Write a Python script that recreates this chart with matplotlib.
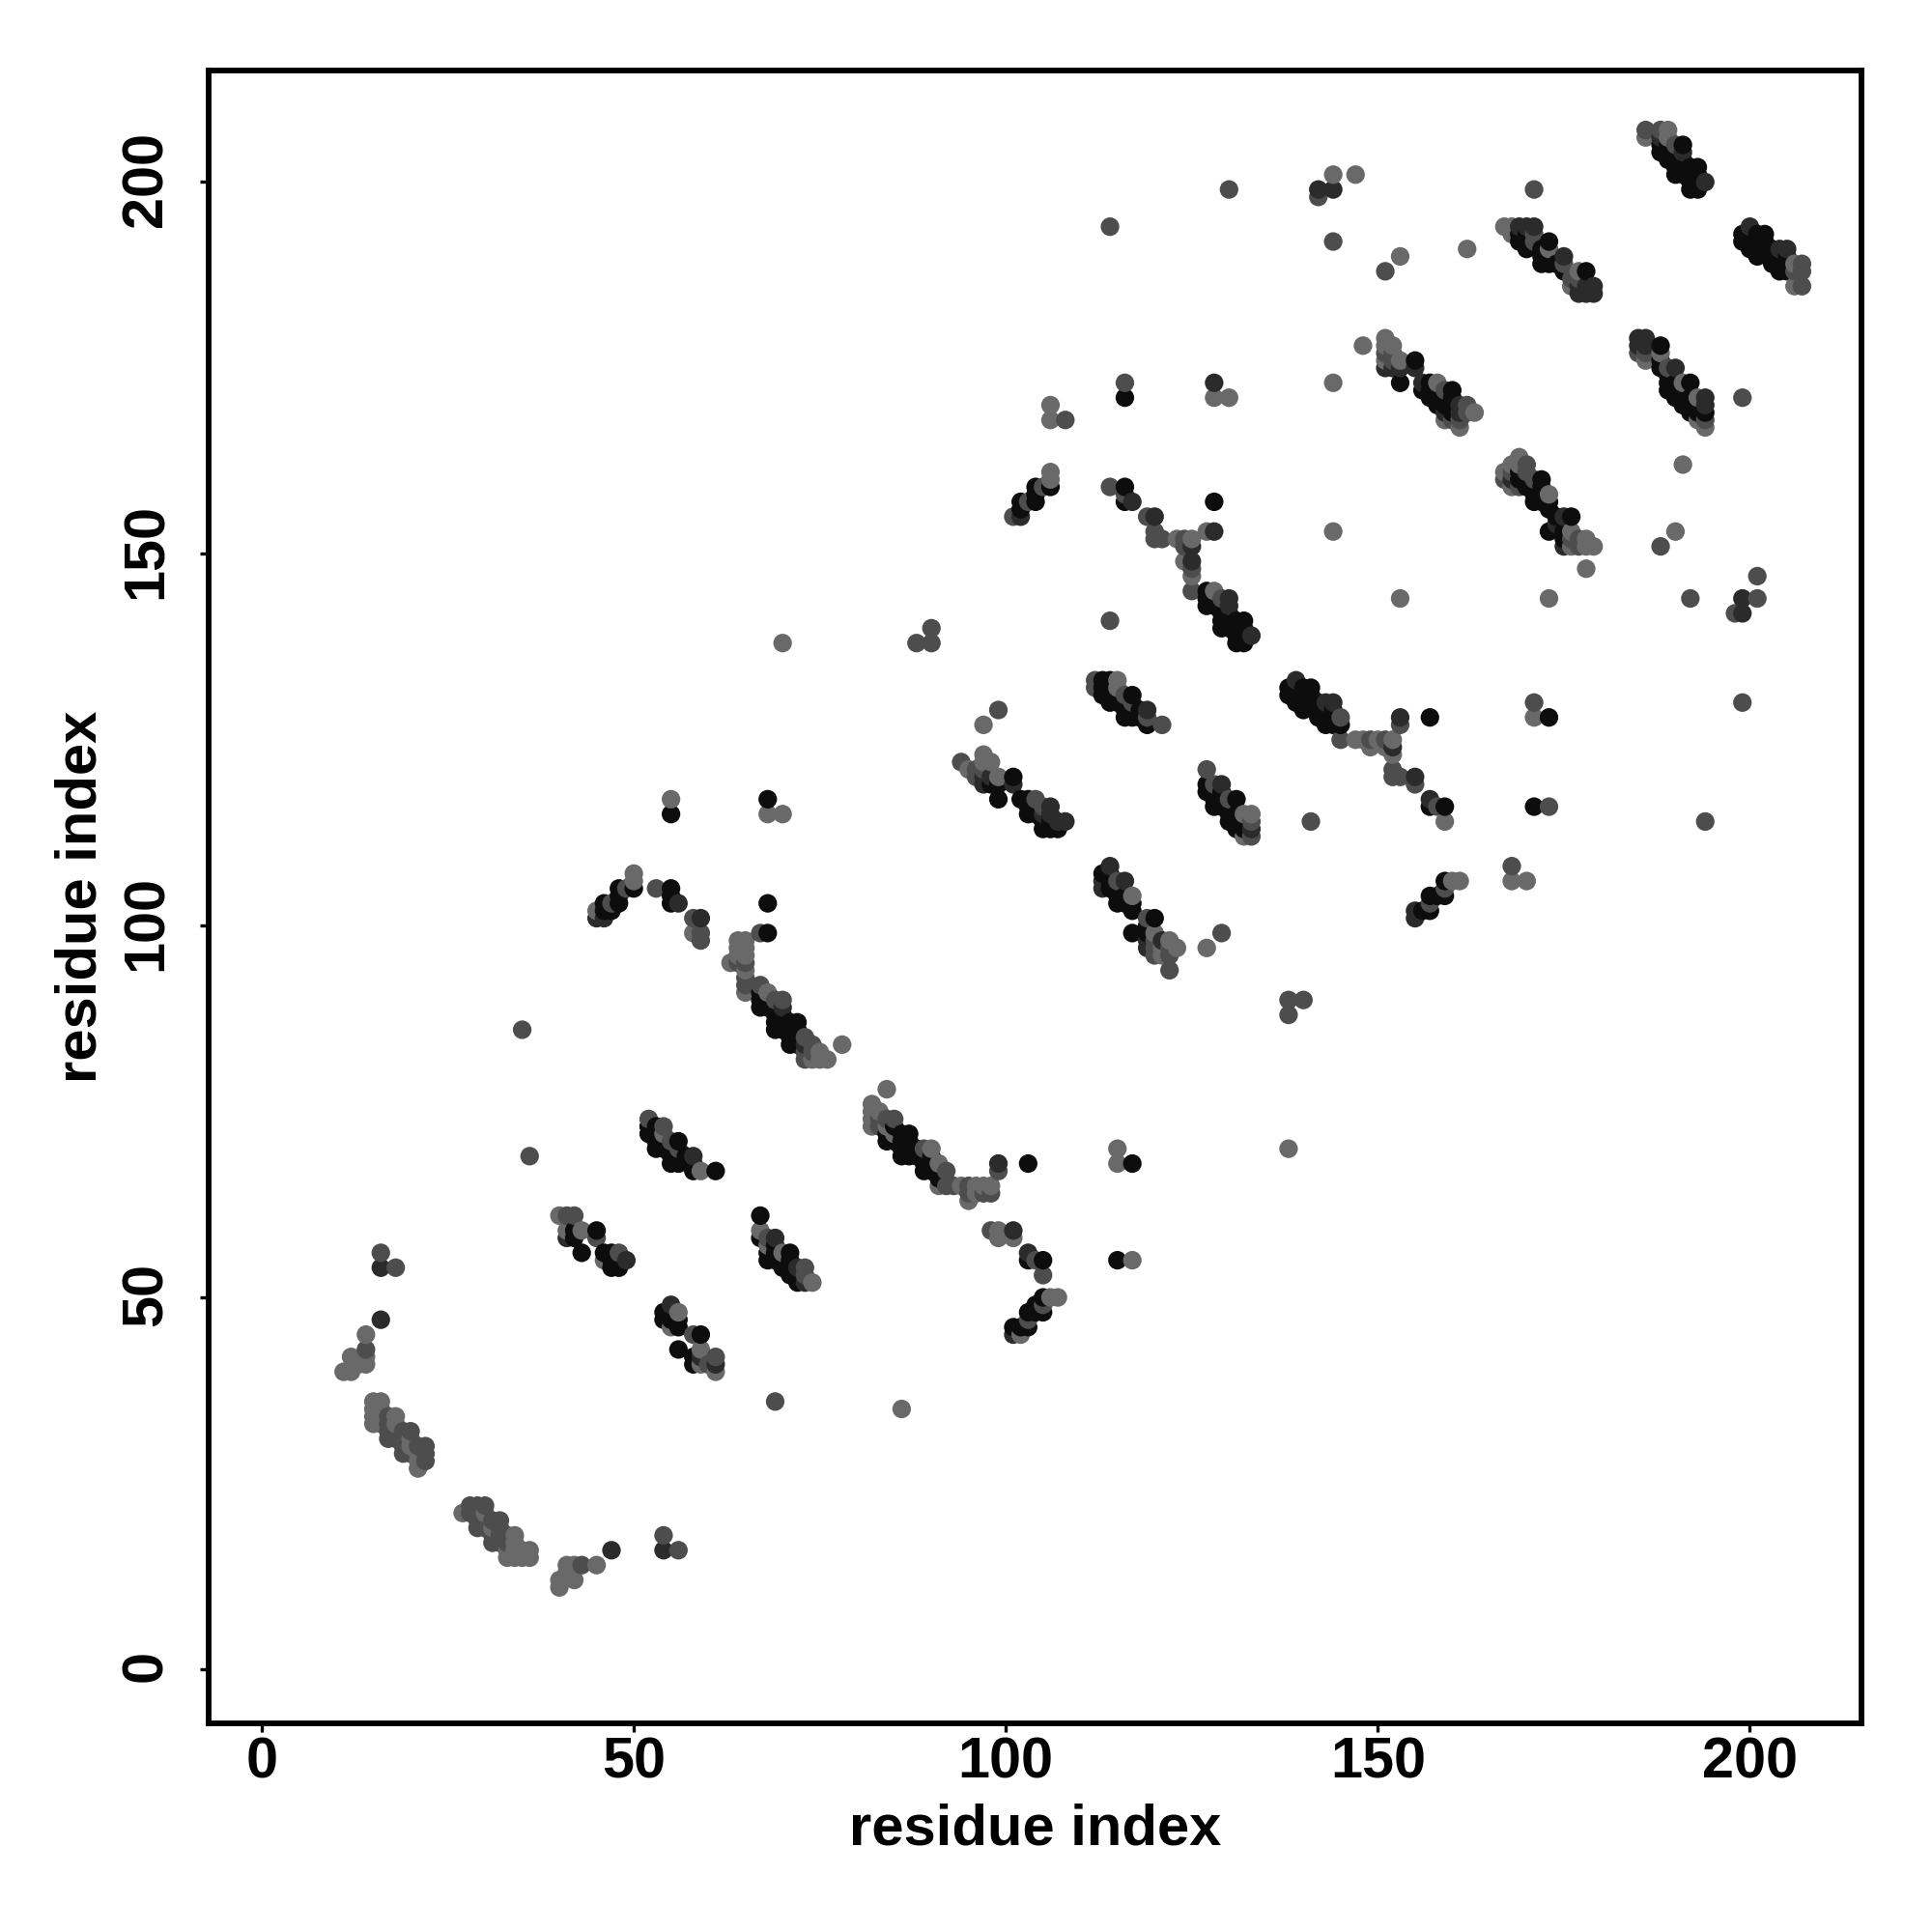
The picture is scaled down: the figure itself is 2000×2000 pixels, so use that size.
import matplotlib as mpl
mpl.use('Agg')
import matplotlib.pyplot as plt
from matplotlib.transforms import ScaledTranslation
import numpy as np

# contacts as (i, j), one list per grey level
light = [(11,40),(12,40),(12,42),(13,41),(14,41),(14,42),(14,45),
    (15,33),(15,34),(15,35),(15,36),(16,33),(16,34),(16,35),(16,36),(18,33),(18,34),(20,30),(20,31),(21,27),(21,28),(21,29),
    (27,21),(30,21),(31,19),(33,15),(33,16),(34,15),(34,16),(34,17),(34,18),(35,15),(35,16),(36,15),(36,16),
    (40,11),(40,12),(41,13),(41,14),(42,12),(42,14),(45,14),
    (40,61),(41,59),(43,59),(46,55),(55,46),(56,48),(59,41),(59,43),(61,40),
    (67,59),(68,57),(70,56),(74,52),(45,102),(50,106),(50,107),(55,117),(58,99),(68,115),(70,115),
    (63,95),(64,96),(64,97),(64,98),(65,91),(65,94),(65,96),(65,97),(65,98),(68,91),
    (74,82),(75,82),(75,83),(76,82),(78,84),(54,72),(59,67),
    (82,73),(82,74),(82,75),(82,76),(83,75),(84,73),(84,78),(85,72),(90,70),(91,65),(91,68),
    (94,65),(95,63),(96,64),(96,65),(97,65),(98,65),(99,58),(99,59),(101,58),(102,45),(106,50),(107,50),
    (115,68),(115,70),(117,55),(86,35),(138,70),(95,121),(97,122),(97,123),(97,127),(98,122),(99,120),
    (115,132),(115,133),(132,112),(132,115),(133,115),(117,104),(120,99),(121,96),(121,97),(122,98),(123,97),(127,97),
    (147,125),(148,125),(149,124),(150,125),(151,124),(152,123),(152,125),(159,114),(160,106),(161,106),(168,106),(170,106),(171,128),
    (167,161),(168,159),(168,162),(169,162),(169,163),(173,158),(176,151),(176,153),(178,148),(178,151),(178,152),(179,151),
    (144,153),(153,144),(173,144),(190,153),(191,162),(123,152),(124,149),(125,147),(125,152),(127,153),(128,145),
    (106,160),(106,161),(106,168),(106,170),(128,171),(130,171),(144,173),(144,201),(147,201),(148,178),(153,190),(162,191),(70,138),
    (186,206),(189,206),(189,207),(206,186),(206,189),(167,194),(168,193),(168,194),(173,191),(176,186),(177,188),
    (186,176),(188,177),(191,173),(193,168),(193,171),(194,167),
    (151,176),(151,178),(151,179),(152,178),(153,176),(158,173),(159,168),(161,167),(163,169)]

mid = [(14,43),(16,56),(18,54),(17,31),(17,32),(17,33),(17,34),(18,31),(18,32),(19,29),(19,30),(19,31),(19,32),(20,29),(20,32),(21,30),(22,28),(22,29),(22,30),
    (28,21),(28,22),(29,19),(29,20),(29,21),(29,22),(30,19),(30,20),(30,22),(31,17),(31,18),(31,20),(32,17),(32,18),(32,19),(32,20),(33,17),(33,18),
    (43,14),(54,18),(56,16),(41,61),(42,61),(45,58),(48,56),(58,45),(60,41),(61,42),
    (68,58),(73,53),(73,54),(47,103),(49,105),(53,105),(58,101),(59,98),(59,99),(67,99),
    (64,95),(65,92),(65,93),(65,95),(67,92),(69,90),(70,90),(73,82),(73,83),(73,85),(74,83),(74,84),(35,86),(36,69),
    (52,74),(54,73),(55,71),(56,70),(83,73),(83,74),(84,74),(85,74),(89,70),(92,65),(92,67),(93,65),(95,64),(95,65),(97,64),(98,64),
    (99,67),(98,59),(104,55),(105,53),(105,49),(103,47),(69,36),(94,122),(96,120),(96,121),(97,121),(99,129),(104,117),(105,116),
    (112,132),(112,133),(116,131),(117,130),(119,128),(121,127),(127,121),(128,119),(130,117),(133,112),(133,114),(141,114),
    (115,106),(119,101),(120,96),(120,97),(120,98),(122,94),(122,96),(122,97),(129,99),(138,88),(138,90),(140,90),
    (145,125),(145,128),(149,125),(151,125),(152,120),(152,121),(153,120),(153,127),(155,119),(158,116),(157,103),(159,105),(168,108),
    (173,116),(171,130),(194,114),(199,130),(167,160),(168,161),(169,159),(170,161),(170,162),(171,160),(176,152),(177,151),(177,152),
    (188,151),(192,144),(198,142),(199,171),(201,144),(201,147),(114,159),(116,158),(119,155),(120,152),(120,153),(121,152),(124,151),(124,152),(125,145),(125,148),
    (108,168),(116,173),(114,141),(129,144),(101,155),(103,157),(105,159),(114,194),(130,199),(142,198),(144,192),(151,188),(171,199),(88,138),(90,138),(90,140),
    (186,207),(188,207),(190,205),(206,188),(207,186),(207,188),(207,189),(171,192),(171,193),(175,189),(176,187),(177,187),
    (185,177),(186,177),(189,175),(194,168),(151,177),(152,176),(152,177),(159,172),(160,168),(161,168),(162,169),(162,170)]

dark = [(16,47),(16,54),(47,16),(54,16),(41,58),(49,55),(55,49),(59,42),(61,41),(69,58),(72,54),(73,52),
    (45,101),(46,101),(56,103),(59,101),(70,89),(73,84),(58,69),(99,68),(101,45),(101,59),(103,56),
    (97,119),(97,120),(98,120),(101,119),(105,115),(106,115),(106,116),(107,114),(108,114),(119,129),(129,119),(133,113),
    (113,105),(113,106),(114,108),(116,106),(119,97),(119,98),(121,98),(139,133),(143,130),(144,130),(152,124),(153,128),(155,120),
    (157,117),(155,101),(155,102),(168,160),(174,154),(175,151),(175,155),(199,142),(199,144),
    (117,157),(120,155),(125,149),(125,151),(128,153),(128,173),(130,143),(130,144),(133,139),(102,155),(142,199),(144,199),
    (188,206),(191,204),(194,200),(200,194),(204,191),(205,191),(169,194),(170,194),(171,194),(175,190),(177,185),(177,186),(178,185),(178,186),(179,185),(179,186),
    (185,178),(185,179),(186,178),(186,179),(190,175),(194,170),(194,171),(151,175),(152,175),(153,175),(155,175),(156,173),(159,169),(161,169),(161,170)]

black = [(42,58),(42,59),(43,56),(45,59),(46,56),(47,54),(47,55),(47,56),(48,54),(48,55),
    (54,47),(54,48),(55,47),(55,48),(56,43),(56,46),(56,47),(58,41),(58,42),(59,45),
    (67,58),(67,61),(68,55),(68,56),(69,55),(69,56),(69,57),(70,54),(70,55),(71,53),(71,54),(71,55),(71,56),(72,52),(72,53),
    (46,102),(46,103),(47,102),(48,103),(48,104),(48,105),(50,105),(55,103),(55,104),(55,105),(55,115),(68,99),(68,103),(68,117),
    (67,89),(67,90),(67,91),(68,89),(68,90),(69,86),(69,87),(69,88),(69,89),(70,86),(70,87),(70,88),(71,84),(71,85),(71,86),(71,87),(72,84),(72,85),(72,86),(72,87),
    (52,72),(52,73),(53,70),(53,71),(53,72),(53,73),(54,70),(54,71),(55,68),(55,69),(55,70),(56,68),(56,69),(56,71),(57,69),(58,67),(58,68),(61,67),
    (84,71),(84,72),(85,71),(85,73),(86,69),(86,70),(86,71),(86,72),(87,69),(87,70),(87,71),(87,72),(88,69),(88,70),(89,67),(89,68),(89,69),(90,67),(90,68),(90,69),(91,66),
    (103,68),(117,68),(103,55),(105,55),(115,55),(101,46),(102,46),(103,46),(103,48),(104,48),(104,49),(105,48),(105,50),
    (98,119),(99,117),(99,119),(101,120),(102,117),(103,115),(103,116),(103,117),(104,115),(104,116),(105,113),(105,114),(106,113),(106,114),(107,113),
    (113,131),(113,132),(113,133),(114,130),(114,131),(114,132),(114,133),(115,130),(115,131),(116,128),(116,129),(116,130),(117,128),(117,129),(117,131),(118,128),(118,129),(119,127),
    (127,118),(127,119),(128,116),(128,117),(128,118),(129,116),(129,117),(129,118),(130,114),(130,115),(130,116),(131,113),(131,114),(131,115),(131,117),(132,113),(132,114),
    (113,107),(114,105),(114,106),(114,107),(115,103),(115,104),(115,105),(116,103),(116,104),(117,99),(117,102),(117,103),(119,99),(119,100),(120,101),
    (138,131),(138,132),(139,130),(139,131),(139,132),(140,129),(140,130),(140,131),(140,132),(141,130),(141,131),(141,132),(142,128),(142,129),(142,130),(143,127),(143,128),(143,129),(144,127),(144,128),(144,129),(145,127),
    (157,128),(157,116),(159,116),(156,102),(157,102),(157,104),(158,104),(159,104),(159,106),(171,116),(173,128),
    (169,160),(169,161),(170,159),(170,160),(171,157),(171,158),(171,159),(172,157),(172,158),(172,159),(172,160),(173,153),(173,156),(173,157),(174,155),(175,152),(175,153),(176,155),
    (116,157),(116,159),(116,171),(128,157),(127,143),(127,144),(127,145),(128,143),(128,144),(129,140),(129,141),(129,142),(129,143),(130,140),(130,141),(130,142),(131,138),(131,139),(131,140),(131,141),(132,138),(132,139),(132,140),(132,141),
    (102,156),(102,157),(104,157),(104,158),(104,159),(106,159),
    (188,204),(188,205),(189,203),(189,204),(189,205),(190,201),(190,202),(190,203),(190,204),(191,201),(191,202),(191,203),(191,205),(192,199),(192,200),(192,201),(192,202),(193,199),(193,200),(193,201),(193,202),
    (199,192),(199,193),(200,191),(200,192),(200,193),(201,190),(201,191),(201,192),(201,193),(202,191),(202,192),(202,193),(203,189),(203,190),(203,191),(204,188),(204,189),(204,190),(205,188),(205,189),(205,190),
    (169,192),(169,193),(170,191),(170,192),(170,193),(172,189),(172,190),(172,191),(173,189),(173,190),(173,192),(174,189),(175,188),(178,188),
    (188,175),(188,176),(188,178),(189,172),(189,173),(189,174),(190,171),(190,172),(190,173),(191,170),(191,171),(191,172),(192,169),(192,170),(192,171),(192,173),(193,169),(193,170),(194,169),
    (153,173),(155,176),(156,172),(157,171),(157,172),(157,173),(158,170),(158,171),(158,172),(159,170),(160,169),(160,170),(160,171),(160,172)]

grey_levels = [0.41, 0.30, 0.17, 0.05]
x_ticks = [0, 50, 100, 150, 200]
y_ticks = [0, 50, 100, 150, 200]

plt.rcParams['font.family'] = ['Liberation Sans', 'DejaVu Sans']
plt.rcParams['font.weight'] = 'bold'

xs, ys, gs = [], [], []
for pts, g in zip([light, mid, dark, black], grey_levels):
    for p in pts:
        xs.append(p[0])
        ys.append(p[1])
        gs.append(g)
xs = np.array(xs)
ys = np.array(ys)
gs = np.array(gs)
# later residues sit on top, like the original draw order
order = np.lexsort((ys, xs))

fig = plt.figure(figsize=(10, 10), dpi=200)
ax = fig.add_axes([216 / 2000, 1 - 1784 / 2000, (1927 - 216) / 2000, (1784 - 73) / 2000])
ax.scatter(xs[order], ys[order], s=48, c=[str(v) for v in gs[order]], linewidths=0, zorder=3)

ax.set_xlim(-7.14, 215)
ax.set_ylim(-7.28, 215)
ax.set_xticks(x_ticks)
ax.set_yticks(y_ticks)
ax.tick_params(axis='both', length=3.2, width=1.2, labelsize=21.4, color='black')
ax.tick_params(axis='x', pad=1.5)
ax.tick_params(axis='y', pad=10, labelrotation=90)
up = ScaledTranslation(0, 3 / 200, fig.dpi_scale_trans)
for lab in ax.get_yticklabels():
    lab.set_va('center')
    lab.set_transform(lab.get_transform() + up)
for s in ax.spines.values():
    s.set_linewidth(2.1)

ax.set_xlabel("residue index", fontsize=21.5, fontweight='bold')
ax.set_ylabel("residue index", fontsize=21.5, fontweight='bold')
ax.xaxis.set_label_coords(0.5, -(1909 - 1784) / 1711, transform=ax.transAxes)
ax.xaxis.label.set_va('baseline')
ax.yaxis.set_label_coords(-(216 - 100) / 1711, 0.5, transform=ax.transAxes)
ax.yaxis.label.set_va('baseline')

plt.savefig("out.png", dpi=200, facecolor='white')
